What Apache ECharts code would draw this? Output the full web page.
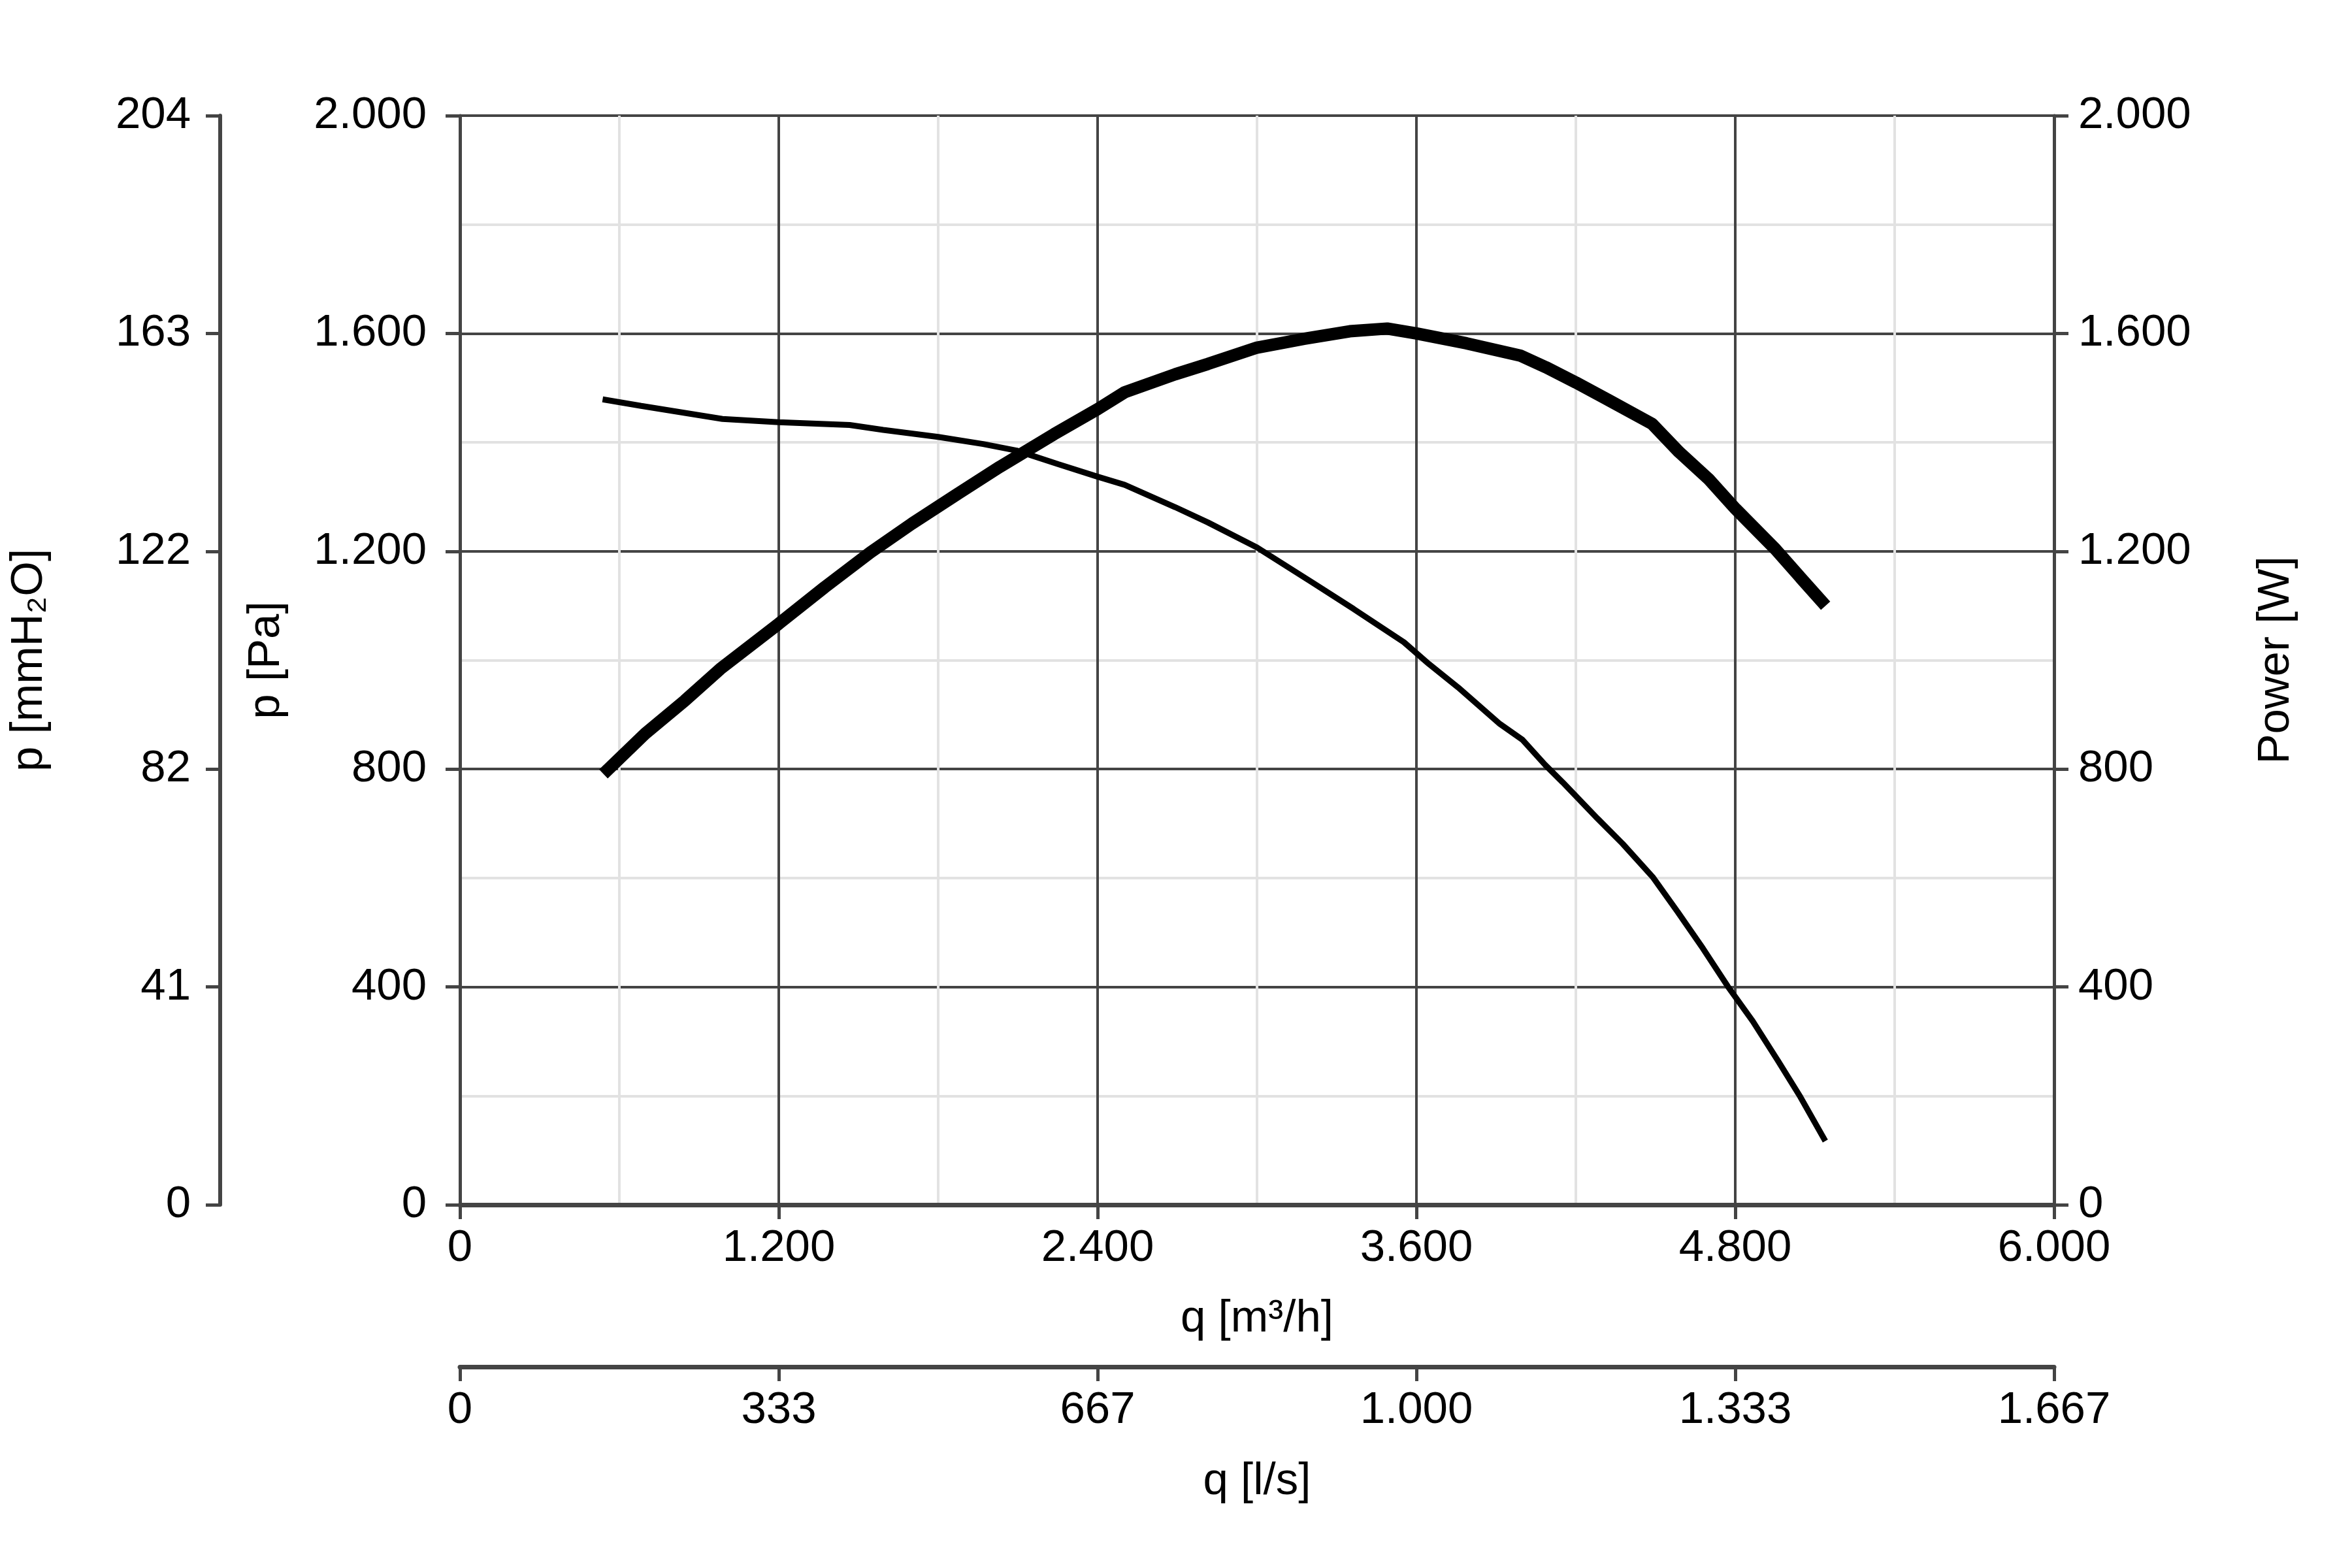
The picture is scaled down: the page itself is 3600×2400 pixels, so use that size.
<!DOCTYPE html>
<html>
<head>
<meta charset="utf-8">
<script src="https://cdn.jsdelivr.net/npm/echarts@6/dist/echarts.min.js"></script>
<style>
  html, body { margin: 0; padding: 0; background: #fff; }
  #chart { width: 3600px; height: 2400px; }
</style>
</head>
<body>
<div id="chart"></div>
<script>
"use strict";

/* Fan curve: static pressure (thin) and power input (thick) against flow. */

// pressure curve, q [m³/h] -> p [Pa]
const qPressure = [537, 682, 988, 1200, 1467, 1593, 1800, 1969, 2095, 2252, 2400, 2502,
  2692, 2815, 3000, 3207, 3364, 3553, 3647, 3757, 3914, 3999, 4084, 4150, 4282, 4376,
  4489, 4583, 4678, 4772, 4866, 4960, 5045, 5139];
const pressure = [1479, 1467, 1443, 1437, 1432, 1423, 1410, 1397, 1385, 1360, 1337, 1322,
  1281, 1253, 1207, 1143, 1094, 1033, 993, 950, 883, 854, 808, 776, 709, 663,
  602, 538, 471, 401, 337, 265, 198, 117];

// power curve, q [m³/h] -> P [W]
const qPower = [540, 697, 847, 980, 1200, 1373, 1545, 1702, 1875, 2032, 2236, 2400, 2502,
  2692, 2815, 3000, 3176, 3349, 3490, 3600, 3788, 3993, 4087, 4200, 4322, 4487, 4589,
  4699, 4801, 4951, 5045, 5140];
const power = [791, 865, 926, 984, 1067, 1134, 1198, 1251, 1306, 1355, 1415, 1461, 1492,
  1525, 1544, 1574, 1590, 1604, 1609, 1600, 1582, 1559, 1538, 1510, 1478, 1434, 1382,
  1333, 1278, 1204, 1152, 1100];

// tick labels (dot as thousands separator, as printed)
const paLabels    = ["0", "400", "800", "1.200", "1.600", "2.000"];
const mmH2OLabels = ["0", "41", "82", "122", "163", "204"];
const powerLabels = ["0", "400", "800", "1.200", "1.600", "2.000"];
const qM3hLabels  = ["0", "1.200", "2.400", "3.600", "4.800", "6.000"];
const qLsLabels   = ["0", "333", "667", "1.000", "1.333", "1.667"];

const INK = "#000";
const AXIS = "#444";
const MINOR = "#e2e2e2";
const FONT = "Liberation Sans, Arial, sans-serif";
const FS = 69;

// label lookup by tick position (all axes have 5 equal steps)
const byStep = (labels, step) => (v) => labels[Math.round(v / step)] ?? "";

const axisLine = (w) => ({ show: true, onZero: false, lineStyle: { color: AXIS, width: w } });
const tick = { show: true, inside: false, length: 22, lineStyle: { color: AXIS, width: 5 } };
const label = (margin, fmt) => ({ show: true, color: INK, fontSize: FS, fontFamily: FONT, margin, formatter: fmt });
const nameStyle = { color: INK, fontSize: FS, fontFamily: FONT };

const pairs = (xs, ys) => xs.map((x, i) => [x, ys[i]]);

const chart = echarts.init(document.getElementById("chart"), null, { renderer: "canvas" });

chart.setOption({
  animation: false,
  backgroundColor: "#fff",
  grid: { left: 704, right: 456, top: 177, bottom: 556, containLabel: false },
  xAxis: [
    {
      type: "value", position: "bottom", min: 0, max: 6000, interval: 1200,
      name: "q [m³/h]", nameLocation: "middle", nameGap: 140, nameTextStyle: nameStyle,
      axisLine: axisLine(7), axisTick: tick,
      axisLabel: label(32, byStep(qM3hLabels, 1200)),
      splitLine: { show: true, lineStyle: { color: AXIS, width: 4 } },
      minorTick: { show: false, splitNumber: 2 },
      minorSplitLine: { show: true, lineStyle: { color: MINOR, width: 4 } },
    },
    {
      type: "value", position: "bottom", offset: 248, min: 0, max: 6000, interval: 1200,
      name: "q [l/s]", nameLocation: "middle", nameGap: 141, nameTextStyle: nameStyle,
      axisLine: axisLine(7), axisTick: tick,
      axisLabel: label(32, byStep(qLsLabels, 1200)),
      splitLine: { show: false },
    },
  ],
  yAxis: [
    {
      type: "value", position: "left", min: 0, max: 2000, interval: 400,
      name: "p [Pa]", nameLocation: "middle", nameGap: 262, nameRotate: 90, nameTextStyle: nameStyle,
      axisLine: axisLine(5), axisTick: tick,
      axisLabel: label(51, byStep(paLabels, 400)),
      splitLine: { show: true, lineStyle: { color: AXIS, width: 4 } },
      minorTick: { show: false, splitNumber: 2 },
      minorSplitLine: { show: true, lineStyle: { color: MINOR, width: 4 } },
    },
    {
      type: "value", position: "left", offset: 367, min: 0, max: 2000, interval: 400,
      name: "p [mmH₂O]", nameLocation: "middle", nameGap: 258, nameRotate: 90, nameTextStyle: nameStyle,
      axisLine: axisLine(6), axisTick: tick,
      axisLabel: label(45, byStep(mmH2OLabels, 400)),
      splitLine: { show: false },
    },
    {
      type: "value", position: "right", min: 0, max: 2000, interval: 400,
      name: "Power [W]", nameLocation: "middle", nameGap: 305, nameRotate: 90, nameTextStyle: nameStyle,
      axisLine: axisLine(5), axisTick: tick,
      axisLabel: label(37, byStep(powerLabels, 400)),
      splitLine: { show: false },
    },
  ],
  series: [
    {
      name: "p", type: "line", xAxisIndex: 0, yAxisIndex: 0,
      data: pairs(qPressure, pressure),
      showSymbol: false, smooth: false,
      lineStyle: { color: INK, width: 9 },
      z: 3,
    },
    {
      name: "Power", type: "line", xAxisIndex: 0, yAxisIndex: 2,
      data: pairs(qPower, power),
      showSymbol: false, smooth: false,
      lineStyle: { color: INK, width: 19 },
      z: 4,
    },
  ],
});
</script>
</body>
</html>
